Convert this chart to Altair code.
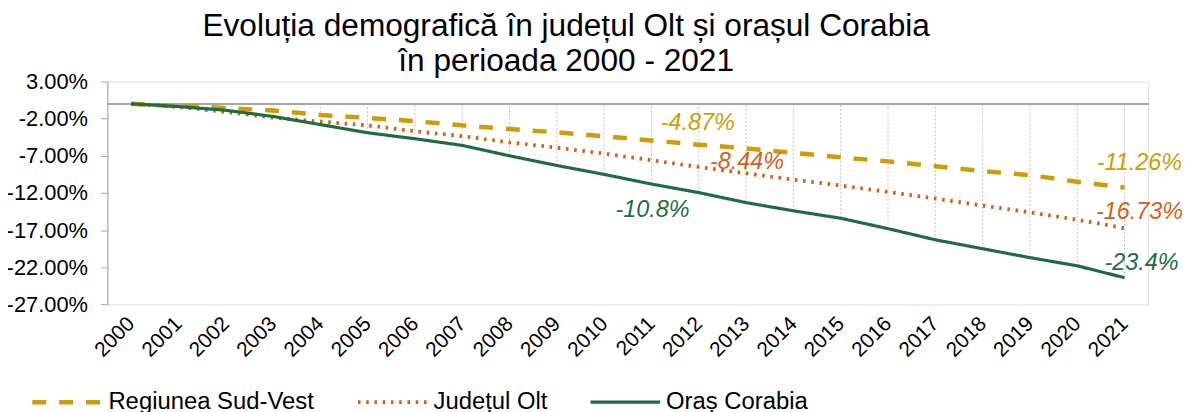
import altair as alt
import pandas as pd

years = list(range(2000, 2022))
sud_vest = [0, -0.29, -0.56, -0.9, -1.5, -1.9, -2.34, -2.9, -3.4, -3.84, -4.37,
            -4.95, -5.5, -6.0, -6.6, -7.2, -7.75, -8.4, -9.05, -9.6, -10.5, -11.26]
olt = [0, -0.43, -1.1, -1.85, -2.4, -2.9, -3.7, -4.35, -5.2, -5.9, -6.7,
       -7.6, -8.5, -9.36, -10.2, -11.0, -11.86, -12.75, -13.7, -14.6, -15.6, -16.73]
corabia = [0, -0.37, -0.87, -1.7, -2.8, -3.9, -4.7, -5.6, -7.0, -8.3, -9.5,
           -10.8, -11.95, -13.3, -14.4, -15.4, -16.8, -18.3, -19.5, -20.7, -21.8, -23.4]

series_names = ["Regiunea Sud-Vest", "Județul Olt", "Oraș Corabia"]
series_colors = ["#CC9D06", "#D2601A", "#1E6C3F"]
y_ticks = [3, -2, -7, -12, -17, -22, -27]

label_series = ["Regiunea Sud-Vest", "Județul Olt", "Oraș Corabia",
                "Regiunea Sud-Vest", "Județul Olt", "Oraș Corabia"]
label_years = [2012, 2013, 2011, 2021, 2021, 2021]
label_texts = ["-4.87%", "-8.44%", "-10.8%", "-11.26%", "-16.73%", "-23.4%"]

title_lines = ["Evoluția demografică în județul Olt și orașul Corabia",
               "în perioada 2000 - 2021"]

# ---- tables built from the arrays ----
values_by_series = dict(zip(series_names, [sud_vest, olt, corabia]))
long_rows = []
for name in series_names:
    for yr, v in zip(years, values_by_series[name]):
        long_rows.append({"year": yr, "value": v, "series": name})
df = pd.DataFrame(long_rows)

drop_df = pd.DataFrame({"year": years,
                        "low": [min(a, b, c) for a, b, c in zip(sud_vest, olt, corabia)]})

x_scale = alt.Scale(domain=[1999.5, 2021.5], nice=False, zero=False)
y_scale = alt.Scale(domain=[-27, 3], nice=False, zero=False)

x_axis = alt.Axis(values=years, tickCount=30, format="d", labelAngle=-45, labelAlign="right",
                  labelBaseline="middle", labelPadding=16, domain=False, ticks=False,
                  grid=False, labelFontSize=21, labelFont="Liberation Sans",
                  labelColor="#000000", labelFlush=False, labelOverlap=False, title=None)
y_axis = alt.Axis(values=y_ticks, tickCount=10, grid=False, domainColor="#A6A6A6",
                  tickColor="#A6A6A6", tickSize=7, labelPadding=13, labelFontSize=22,
                  labelFont="Liberation Sans", labelColor="#000000", title=None,
                  labelOverlap=False, labelFlush=False,
                  labelExpr="(datum.value < 0 ? '-' : '') + format(abs(datum.value), '.2f') + '%'")

base = alt.Chart(df)

drops = alt.Chart(drop_df).mark_rule(color="#BFBFBF", strokeWidth=1, strokeDash=[2, 2]).encode(
    x=alt.X("year:Q", scale=x_scale, axis=x_axis),
    y=alt.Y("low:Q", scale=y_scale, axis=y_axis),
    y2=alt.datum(0),
)

zero_line = alt.Chart(drop_df).mark_rule(color="#A6A6A6", strokeWidth=1.5).encode(
    y=alt.datum(0)
)

lines = base.mark_line(strokeCap="butt", strokeJoin="round").encode(
    x=alt.X("year:Q", scale=x_scale, axis=x_axis),
    y=alt.Y("value:Q", scale=y_scale, axis=y_axis),
    color=alt.Color("series:N", scale=alt.Scale(domain=series_names, range=series_colors),
                    sort=series_names,
                    legend=alt.Legend(orient="none", direction="horizontal", title=None,
                                      legendX=-78, legendY=285, symbolType="stroke",
                                      symbolSize=4900, symbolStrokeWidth=4,
                                      labelFontSize=24, labelFont="Liberation Sans",
                                      labelColor="#000000", labelOffset=4,
                                      columnPadding=36, padding=0, labelLimit=400)),
    strokeDash=alt.StrokeDash("series:N",
                              scale=alt.Scale(domain=series_names,
                                              range=[[14, 13], [2.6, 5.7], [1, 0]]),
                              sort=series_names, legend=alt.Legend(orient="none", title=None)),
    strokeWidth=alt.StrokeWidth("series:N",
                                scale=alt.Scale(domain=series_names, range=[4.5, 3.2, 4.5]),
                                legend=None),
    detail="series:N",
)

offsets = [(-1, -22), (1, -11), (1, 26), (15, -25), (15, -16), (17, -15)]
label_layers = []
for s, yr, txt, (dx, dy) in zip(label_series, label_years, label_texts, offsets):
    val = values_by_series[s][years.index(yr)]
    col = series_colors[series_names.index(s)]
    ldf = pd.DataFrame({"year": [yr], "value": [val], "text": [txt]})
    label_layers.append(
        alt.Chart(ldf).mark_text(font="Liberation Sans", fontSize=23.5, fontStyle="italic",
                                 color=col, dx=dx, dy=dy, align="center",
                                 baseline="middle").encode(
            x=alt.X("year:Q", scale=x_scale),
            y=alt.Y("value:Q", scale=y_scale),
            text="text:N",
        )
    )

chart = alt.layer(drops, zero_line, lines, *label_layers).properties(
    width=1047,
    height=224.3,
    title=alt.TitleParams(text=title_lines, fontSize=31.8, font="Liberation Sans",
                          fontWeight="normal", color="#000000", anchor="middle",
                          dx=-62, dy=11, offset=4, lineHeight=35),
    autosize=alt.AutoSizeParams(type="none"),
    padding={"left": 100, "top": 72.7, "right": 34, "bottom": 115},
).configure_view(stroke=None).configure(background="#FFFFFF")

chart.save("out.html", embed_options={"renderer": "svg", "actions": False})
